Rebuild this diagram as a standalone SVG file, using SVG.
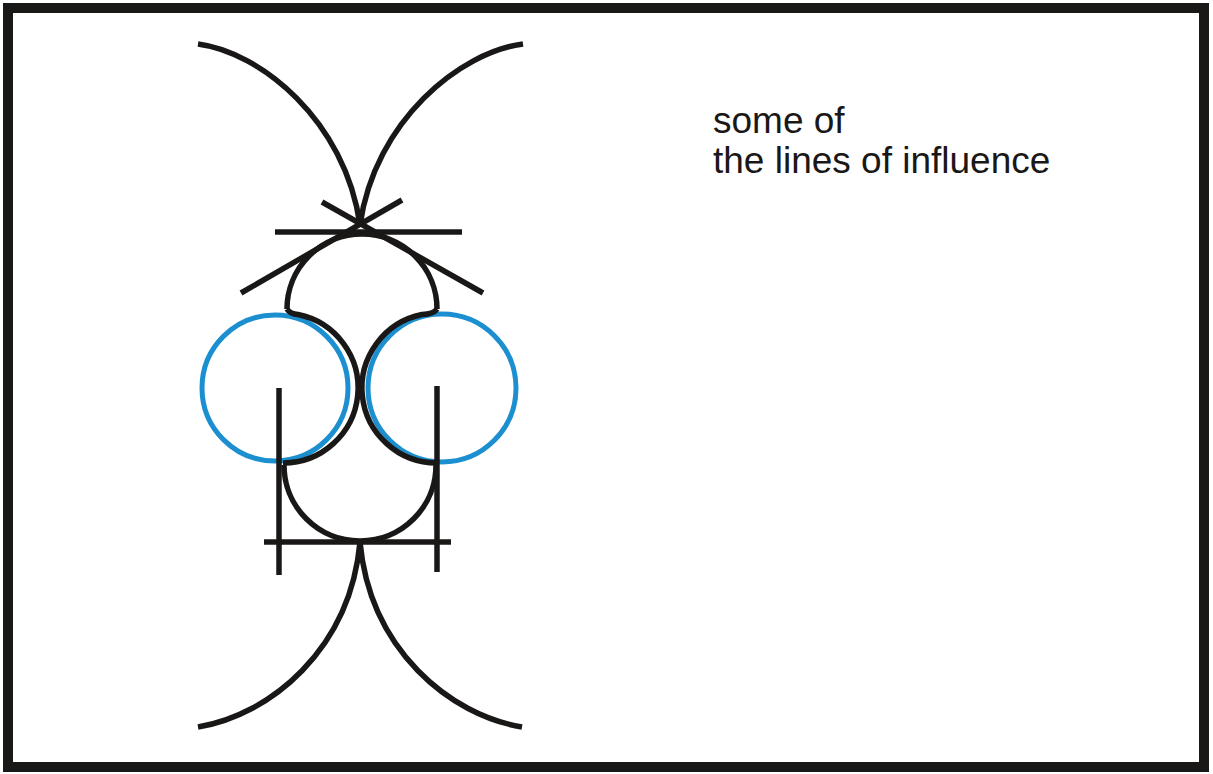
<svg xmlns="http://www.w3.org/2000/svg" width="1213" height="774" viewBox="0 0 1213 774">
<style>
.k{fill:none;stroke:#1a1717;stroke-width:5.5;stroke-linecap:butt}
.b{fill:none;stroke:#1b8fcf;stroke-width:5}
.t{font-family:"Liberation Sans",Arial,sans-serif;font-size:37px;fill:#1a1717}
</style>
<rect x="0" y="0" width="1213" height="774" fill="#ffffff"/>
<rect x="8" y="8" width="1196" height="759" fill="none" stroke="#1a1717" stroke-width="10"/>
<g id="circle-left"><circle class="b" cx="275" cy="388" r="73"/></g>
<g id="circle-right"><circle class="b" cx="442" cy="388" r="74"/></g>
<g id="connectors">
<path class="k" d="M198,44 C260,52 345,120 360,225"/>
<path class="k" d="M523,44 C461,52 375,120 360,225"/>
<path class="k" d="M241,293 L402,200"/>
<path class="k" d="M322,202 L483,293"/>
<path class="k" d="M275,232 L462,232"/>
<path class="k" d="M287,309 A75,75 0 0 1 437,309"/>
<path class="k" d="M287,309 Q290,314 298,314.5 A75,75 0 0 1 283,463"/>
<path class="k" d="M437,309 Q434,314 422,314.5 A75,75 0 0 0 437,463"/>
<path class="k" d="M284,465 A76,76 0 0 0 436,465"/>
<path class="k" d="M264,542 L451,542"/>
<path class="k" d="M279,388 L279,575"/>
<path class="k" d="M437,386 L437,572"/>
<path class="k" d="M360,542 C350,650 270,715 198,727"/>
<path class="k" d="M360,542 C370,650 450,715 522,727"/>
</g>
<g id="label">
<text class="t" x="713" y="133">some of</text>
<text class="t" x="713" y="173">the lines of influence</text>
</g>
</svg>
